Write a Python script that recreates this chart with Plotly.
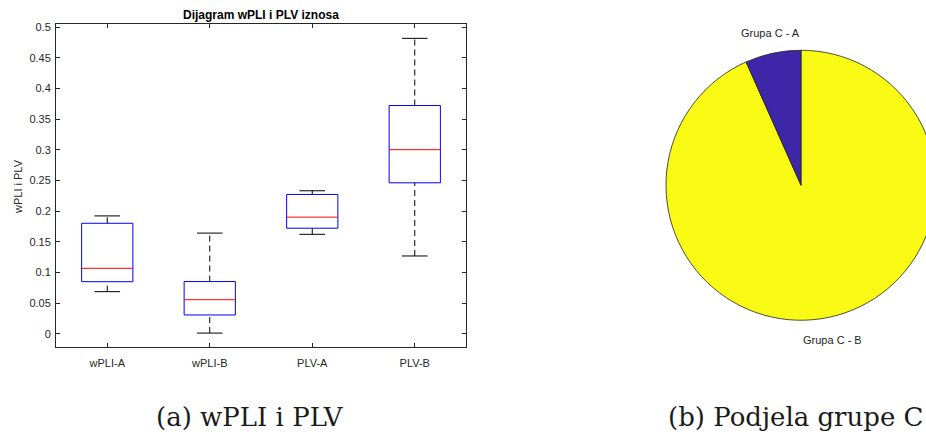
import plotly.graph_objects as go

# box plot statistics
categories = ["wPLI-A", "wPLI-B", "PLV-A", "PLV-B"]
lower_whisker = [0.0685, 0.001, 0.162, 0.1267]
q1 = [0.0848, 0.0305, 0.172, 0.246]
median = [0.1066, 0.0554, 0.190, 0.300]
q3 = [0.180, 0.085, 0.227, 0.372]
upper_whisker = [0.192, 0.164, 0.233, 0.4815]

y_ticks = [0, 0.05, 0.1, 0.15, 0.2, 0.25, 0.3, 0.35, 0.4, 0.45, 0.5]
y_ticktext = ["0", "0.05", "0.1", "0.15", "0.2", "0.25", "0.3", "0.35", "0.4", "0.45", "0.5"]

# pie: group C split
pie_labels = ["Grupa C - A", "Grupa C - B"]
pie_values = [1, 14]
pie_colors = ["#3E26A8", "#F9FB15"]

W, H = 940, 436
ink = "#262626"
sans = "Liberation Sans, Arial, sans-serif"
serif = "DejaVu Serif, serif"
pos = list(range(1, len(categories) + 1))

fig = go.Figure()

def segs(pairs):
    xs, ys = [], []
    for (x0, y0, x1, y1) in pairs:
        xs += [x0, x1, None]
        ys += [y0, y1, None]
    return xs, ys

# boxes (q1..q3), drawn as closed outlines
bx, by = [], []
for i, p in enumerate(pos):
    bx += [p - 0.25, p + 0.25, p + 0.25, p - 0.25, p - 0.25, None]
    by += [q1[i], q1[i], q3[i], q3[i], q1[i], None]
fig.add_trace(go.Scatter(x=bx, y=by, mode="lines", line=dict(color="#0000FF", width=1), hoverinfo="skip"))

# dashed whiskers
wx, wy = segs([(p, q3[i], p, upper_whisker[i]) for i, p in enumerate(pos)] +
              [(p, lower_whisker[i], p, q1[i]) for i, p in enumerate(pos)])
fig.add_trace(go.Scatter(x=wx, y=wy, mode="lines", line=dict(color="#000000", width=1, dash="6px,4px"),
                         hoverinfo="skip"))
# caps
cx, cy = segs([(p - 0.125, upper_whisker[i], p + 0.125, upper_whisker[i]) for i, p in enumerate(pos)] +
              [(p - 0.125, lower_whisker[i], p + 0.125, lower_whisker[i]) for i, p in enumerate(pos)])
fig.add_trace(go.Scatter(x=cx, y=cy, mode="lines", line=dict(color="#000000", width=1), hoverinfo="skip"))
# medians
mx, my = segs([(p - 0.25, median[i], p + 0.25, median[i]) for i, p in enumerate(pos)])
fig.add_trace(go.Scatter(x=mx, y=my, mode="lines", line=dict(color="#FF0000", width=1), hoverinfo="skip"))

# B first, going clockwise from 12 o'clock, leaves A just left of the top
fig.add_trace(go.Pie(labels=pie_labels[::-1], values=pie_values[::-1], sort=False, direction="clockwise",
                     rotation=0, textinfo="none", hoverinfo="skip",
                     marker=dict(colors=pie_colors[::-1], line=dict(color="#222222", width=0.8)),
                     domain=dict(x=[666 / W, 936 / W], y=[1 - 320.5 / H, 1 - 50 / H])))

def note(text, x, y, font, anchor="center"):
    return dict(text=text, x=x / W, y=1 - y / H, xref="paper", yref="paper", xanchor=anchor,
                yanchor="middle", showarrow=False, font=font)

fig.update_layout(
    width=W, height=H, margin=dict(l=0, r=0, t=0, b=0), showlegend=False,
    plot_bgcolor="white", paper_bgcolor="white",
    xaxis=dict(domain=[56 / W, 466 / W], range=[0.5, 4.5], tickvals=pos, ticktext=categories,
               automargin=False,
               showgrid=False, zeroline=False, showline=True, mirror="ticks", linecolor=ink, linewidth=1,
               ticks="inside", ticklen=4, tickcolor=ink, ticklabelstandoff=6,
               tickfont=dict(family=sans, size=11, color=ink)),
    yaxis=dict(domain=[1 - 347 / H, 1 - 24 / H], range=[-0.0217, 0.5049], tickvals=y_ticks, ticktext=y_ticktext,
               automargin=False,
               showgrid=False, zeroline=False, showline=True, mirror="ticks", linecolor=ink, linewidth=1,
               ticks="inside", ticklen=4, tickcolor=ink, ticklabelstandoff=2,
               tickfont=dict(family=sans, size=11, color=ink)),
    annotations=[
        note("<b>Dijagram wPLI i PLV iznosa</b>", 261, 15, dict(family=sans, size=12, color="#000000")),
        dict(text="wPLI i PLV", x=18 / W, y=1 - 187 / H, xref="paper", yref="paper", xanchor="center",
             yanchor="middle", textangle=-90, showarrow=False, font=dict(family=sans, size=11, color=ink)),
        note("Grupa C - A", 770.7, 33, dict(family=sans, size=11, color=ink)),
        note("Grupa C - B", 832, 340, dict(family=sans, size=11, color=ink)),
        note("(a) wPLI i PLV", 250, 417, dict(family=serif, size=26, color="#1a1a1a")),
        note("(b) Podjela grupe C", 666, 417, dict(family=serif, size=26, color="#1a1a1a"), anchor="left"),
    ],
)

fig.write_html("out.html", config={"displayModeBar": False},
               post_script="document.body.style.margin='0';document.body.style.overflow='hidden';")
